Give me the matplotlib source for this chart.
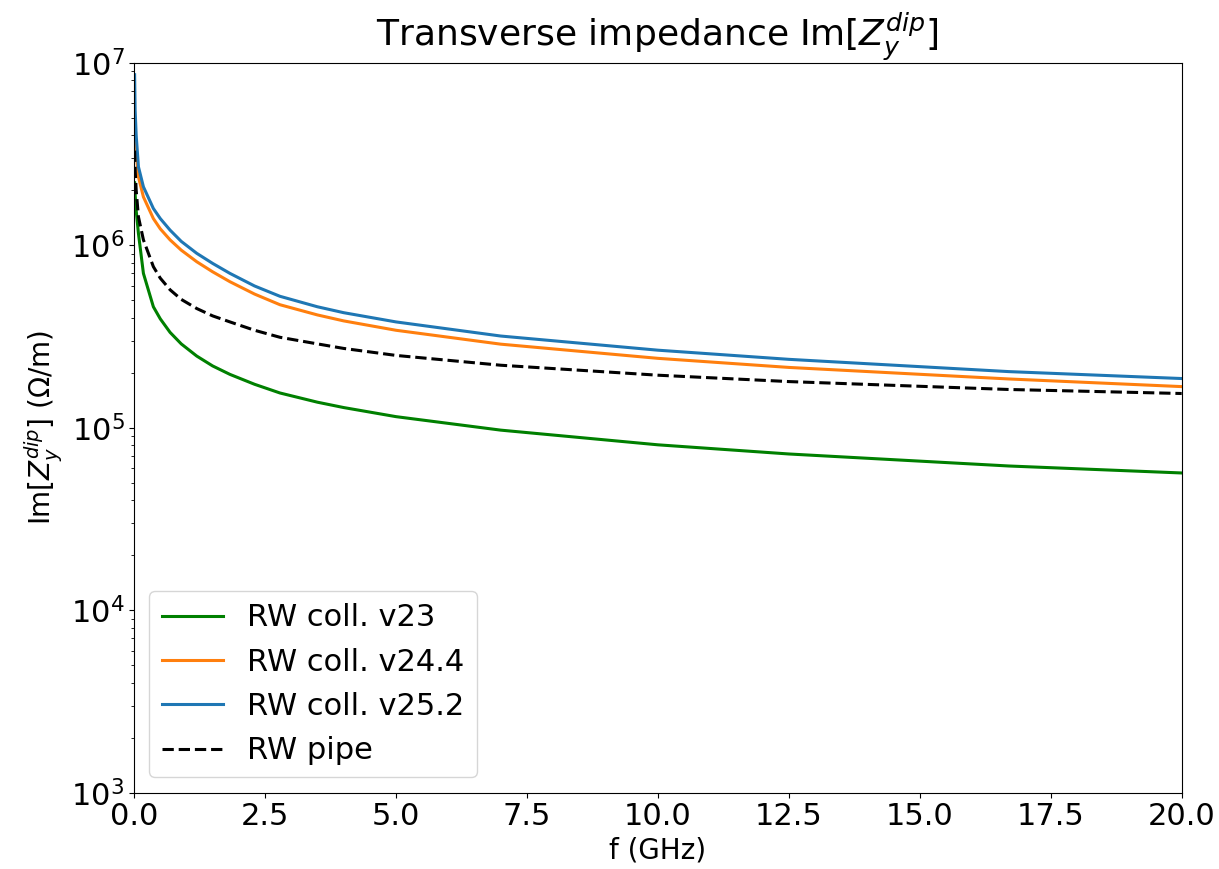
import numpy as np
import matplotlib
matplotlib.use('Agg')
import matplotlib.pyplot as plt

# Frequency points (GHz)
freq = [0.01, 0.02, 0.04, 0.083, 0.178, 0.368, 0.5, 0.687, 0.9, 1.196, 1.5,
        1.83, 2.3, 2.785, 3.5, 4.0, 5.0, 7.0, 10.0, 12.5, 16.7, 20.0]

# Im[Z_y^dip] in Ohm/m
z_v23 = [2.2e6, 1.9e6, 1.55e6, 1.16e6, 7.01e5, 4.60e5, 3.95e5, 3.33e5, 2.88e5,
         2.47e5, 2.18e5, 1.96e5, 1.73e5, 1.55e5, 1.38e5, 1.29e5, 1.15e5, 9.7e4,
         8.06e4, 7.18e4, 6.17e4, 5.65e4]
z_v244 = [5.0e6, 4.0e6, 3.2e6, 2.37e6, 1.84e6, 1.40e6, 1.23e6, 1.07e6, 9.4e5,
          8.12e5, 7.15e5, 6.31e5, 5.4e5, 4.72e5, 4.15e5, 3.85e5, 3.42e5, 2.87e5,
          2.40e5, 2.14e5, 1.85e5, 1.68e5]
z_v252 = [8.6e6, 5.5e6, 4.0e6, 2.69e6, 2.09e6, 1.59e6, 1.40e6, 1.21e6, 1.05e6,
          9.03e5, 7.95e5, 7.01e5, 5.98e5, 5.25e5, 4.6e5, 4.27e5, 3.80e5, 3.18e5,
          2.66e5, 2.37e5, 2.03e5, 1.86e5]
z_pipe = [3.3e6, 2.6e6, 2.0e6, 1.43e6, 1.07e6, 7.63e5, 6.6e5, 5.7e5, 5.05e5,
          4.5e5, 4.1e5, 3.8e5, 3.42e5, 3.13e5, 2.88e5, 2.72e5, 2.49e5, 2.20e5,
          1.94e5, 1.79e5, 1.62e5, 1.54e5]

fig = plt.figure(figsize=(12.19, 8.69), dpi=100)
ax = fig.add_axes([0.110, 0.0878, 0.8594, 0.840])

ax.plot(freq, z_v23, color='green', lw=2.2, label='RW coll. v23')
ax.plot(freq, z_v244, color='tab:orange', lw=2.2, label='RW coll. v24.4')
ax.plot(freq, z_v252, color='tab:blue', lw=2.2, label='RW coll. v25.2')
ax.plot(freq, z_pipe, color='black', lw=2.2, ls='--', label='RW pipe')

ax.set_yscale('log')
ax.set_xlim(0, 20)
ax.set_ylim(1e3, 1e7)

ax.set_xlabel('f (GHz)', fontsize=20)
ax.set_ylabel(r'Im[$Z_y^{dip}$] ($\Omega$/m)', fontsize=20)
ax.set_title(r'Transverse impedance Im[$Z_y^{dip}$]', fontsize=26)
ax.tick_params(axis='both', which='major', labelsize=22)

ax.legend(loc='lower left', fontsize=22)

fig.savefig('out.png', dpi=100)
